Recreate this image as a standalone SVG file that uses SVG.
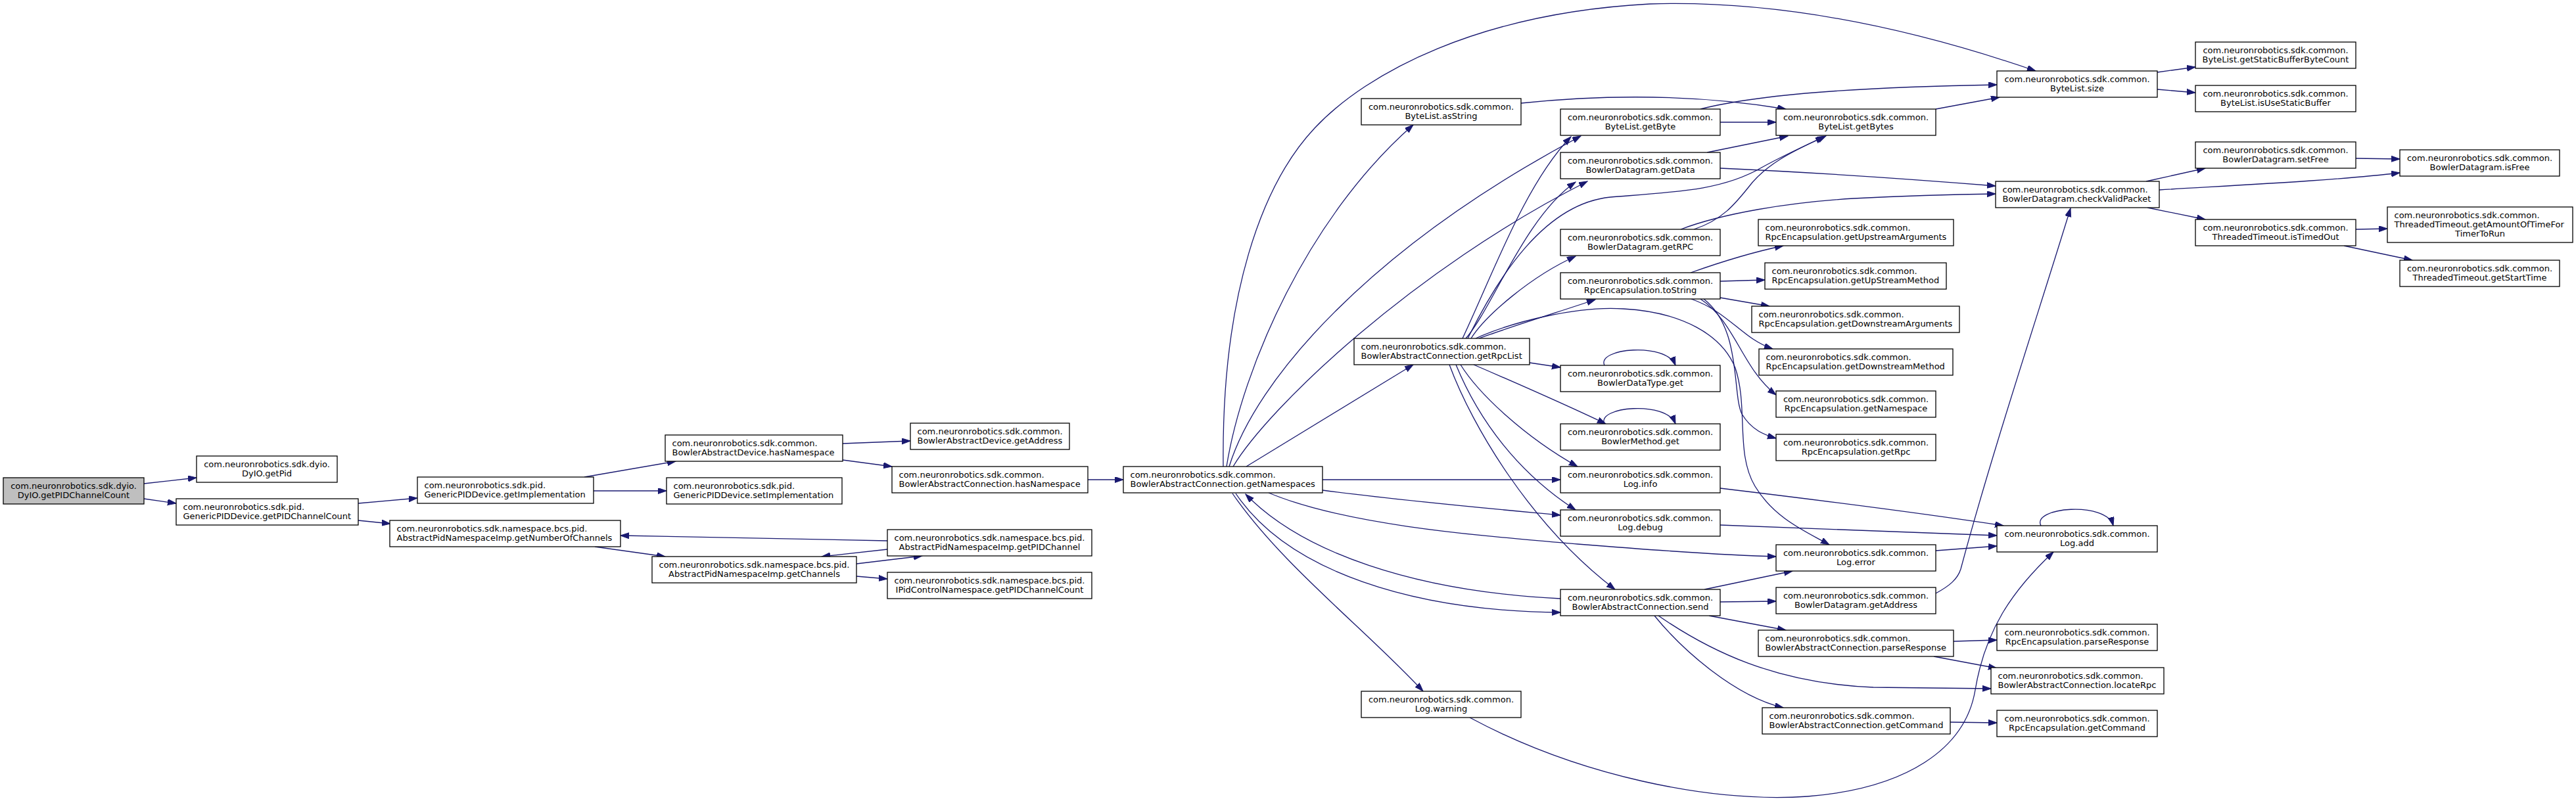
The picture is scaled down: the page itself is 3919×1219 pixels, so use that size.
<svg xmlns="http://www.w3.org/2000/svg" width="3919" height="1219" viewBox="0 0 3919 1219">
<style>
.n rect{fill:#fff;stroke:#000;stroke-width:1.3}
.n text{font-family:"DejaVu Sans","Liberation Sans",sans-serif;font-size:13px;fill:#000}
.c{text-anchor:middle}
.l{text-anchor:start}
.e{fill:none;stroke:#191970;stroke-width:1.3;marker-end:url(#ah)}
</style>
<defs>
<marker id="ah" markerUnits="userSpaceOnUse" markerWidth="14" markerHeight="10" refX="13" refY="4.5" orient="auto"><path d="M0,0 L13,4.5 L0,9 z" fill="#191970" stroke="#191970" stroke-width="1"/></marker>
</defs>
<rect x="0" y="0" width="3919" height="1219" fill="#fff"/>
<g id="edges">
<path class="e" d="M219,736 L299,727"/>
<path class="e" d="M219,759 L268,766"/>
<path class="e" d="M545,766 L635,758"/>
<path class="e" d="M545,792 L594,797"/>
<path class="e" d="M889,726 L1028,702"/>
<path class="e" d="M903,747 L1014,747"/>
<path class="e" d="M1282,675 L1385,671"/>
<path class="e" d="M1282,700 L1357,710"/>
<path class="e" d="M1655,730 L1709,730"/>
<path class="e" d="M905,832 L1012,847"/>
<path class="e" d="M1303,858 L1403,846"/>
<path class="e" d="M1303,877 L1350,881"/>
<path class="e" d="M1350,823 L944,815"/>
<path class="e" d="M1350,836 L1250,847"/>
<path class="e" d="M1861,710 C1858,450 1920,280 2000,195 C2080,110 2250,20 2510,6 C2700,0 2900,40 3097,108"/>
<path class="e" d="M1866,710 C1890,560 1990,330 2150,190"/>
<path class="e" d="M1870,710 C1910,580 2080,380 2405,207"/>
<path class="e" d="M1876,710 C1930,620 2150,410 2415,276"/>
<path class="e" d="M1896,710 L2150,555"/>
<path class="e" d="M2012,730 L2374,730"/>
<path class="e" d="M2012,746 C2150,764 2300,777 2374,784"/>
<path class="e" d="M1930,750 C2050,800 2250,815 2400,828 C2550,840 2650,846 2702,847"/>
<path class="e" d="M1880,751 C1960,870 2150,930 2374,932"/>
<path class="e" d="M2374,911 C2150,900 1980,840 1895,752"/>
<path class="e" d="M1875,751 C1950,860 2080,960 2165,1052"/>
<path class="e" d="M2236,1092 C2400,1180 2600,1222 2750,1212 C2900,1200 2990,1140 3005,1050 C3020,960 3060,900 3124,840"/>
<path class="e" d="M2225,515 C2270,420 2320,280 2390,208"/>
<path class="e" d="M2230,515 C2270,470 2320,330 2397,277"/>
<path class="e" d="M2238,515 C2260,480 2330,420 2397,390"/>
<path class="e" d="M2250,515 C2290,500 2370,475 2427,456"/>
<path class="e" d="M2233,515 C2280,420 2350,310 2450,300 C2550,292 2620,290 2680,255 C2720,233 2750,220 2778,207"/>
<path class="e" d="M2245,515 C2300,490 2400,465 2470,470 C2560,475 2620,510 2640,560 C2660,620 2640,690 2670,740 C2700,790 2750,810 2783,829"/>
<path class="e" d="M2327,552 L2374,559"/>
<path class="e" d="M2242,555 C2300,580 2380,615 2443,645"/>
<path class="e" d="M2222,555 C2250,600 2320,665 2400,710"/>
<path class="e" d="M2215,555 C2250,640 2310,720 2397,776"/>
<path class="e" d="M2205,555 C2240,650 2330,800 2457,897"/>
<path class="e" d="M2572,415 C2620,398 2670,383 2713,374"/>
<path class="e" d="M2617,428 L2685,426"/>
<path class="e" d="M2617,453 L2692,466"/>
<path class="e" d="M2573,455 C2630,475 2650,515 2697,531"/>
<path class="e" d="M2587,455 C2640,490 2650,560 2702,601"/>
<path class="e" d="M2592,455 C2650,500 2635,600 2650,630 C2665,655 2685,662 2702,667"/>
<path class="e" d="M2557,349 C2620,325 2720,308 2820,302 C2900,298 2970,296 3036,295"/>
<path class="e" d="M2577,349 C2620,335 2640,310 2660,285 C2690,245 2740,225 2775,208"/>
<path class="e" d="M2597,232 L2720,207"/>
<path class="e" d="M2617,256 C2750,262 2900,272 3036,283"/>
<path class="e" d="M2617,186 L2702,186"/>
<path class="e" d="M2587,166 C2680,142 2850,132 3038,129"/>
<path class="e" d="M2314,157 C2420,146 2560,140 2717,166"/>
<path class="e" d="M2945,166 L3042,148"/>
<path class="e" d="M3282,110 L3340,102"/>
<path class="e" d="M3282,136 L3340,141"/>
<path class="e" d="M3265,276 L3355,256"/>
<path class="e" d="M3285,289 C3400,282 3550,275 3651,263"/>
<path class="e" d="M3267,316 L3355,334"/>
<path class="e" d="M3584,241 L3651,242"/>
<path class="e" d="M3584,349 L3632,348"/>
<path class="e" d="M3566,374 L3670,396"/>
<path class="e" d="M2617,743 C2800,765 2950,785 3048,800"/>
<path class="e" d="M2617,799 C2800,806 2950,812 3038,815"/>
<path class="e" d="M2945,838 L3038,831"/>
<path class="e" d="M2945,903 C2965,892 2978,882 2983,866 C3030,690 3100,480 3150,317"/>
<path class="e" d="M2593,897 L2727,869"/>
<path class="e" d="M2617,916 L2702,915"/>
<path class="e" d="M2600,937 L2717,959"/>
<path class="e" d="M2517,937 C2560,990 2640,1060 2713,1077"/>
<path class="e" d="M2523,937 C2600,990 2700,1040 2850,1046 L3029,1048"/>
<path class="e" d="M2972,976 L3038,974"/>
<path class="e" d="M2942,999 L3038,1017"/>
<path class="e" d="M2967,1099 L3038,1100"/>
<path class="e" d="M2441,556 C2428,530 2535,520 2549,556"/>
<path class="e" d="M2441,645 C2428,619 2535,609 2549,645"/>
<path class="e" d="M3105,800 C3090,772 3205,762 3215,800"/>
</g>
<g id="n0" class="n"><rect x="5" y="727" width="214" height="40" style="fill:#bfbfbf"/><text class="c" x="112" y="743.5">com.neuronrobotics.sdk.dyio.</text><text class="c" x="112" y="757.5">DyIO.getPIDChannelCount</text></g>
<g id="n1" class="n"><rect x="299" y="694" width="214" height="40"/><text class="c" x="406" y="710.5">com.neuronrobotics.sdk.dyio.</text><text class="c" x="406" y="724.5">DyIO.getPid</text></g>
<g id="n2" class="n"><rect x="268" y="759" width="277" height="40"/><text class="l" x="278.5" y="775.5">com.neuronrobotics.sdk.pid.</text><text class="l" x="278.5" y="789.5">GenericPIDDevice.getPIDChannelCount</text></g>
<g id="n3" class="n"><rect x="635" y="726" width="268" height="40"/><text class="l" x="645.5" y="742.5">com.neuronrobotics.sdk.pid.</text><text class="l" x="645.5" y="756.5">GenericPIDDevice.getImplementation</text></g>
<g id="n4" class="n"><rect x="593" y="792" width="351" height="40"/><text class="l" x="603.5" y="808.5">com.neuronrobotics.sdk.namespace.bcs.pid.</text><text class="l" x="603.5" y="822.5">AbstractPidNamespaceImp.getNumberOfChannels</text></g>
<g id="n5" class="n"><rect x="1012" y="662" width="270" height="40"/><text class="l" x="1022.5" y="678.5">com.neuronrobotics.sdk.common.</text><text class="l" x="1022.5" y="692.5">BowlerAbstractDevice.hasNamespace</text></g>
<g id="n6" class="n"><rect x="1014" y="727" width="267" height="40"/><text class="l" x="1024.5" y="743.5">com.neuronrobotics.sdk.pid.</text><text class="l" x="1024.5" y="757.5">GenericPIDDevice.setImplementation</text></g>
<g id="n7" class="n"><rect x="992" y="847" width="311" height="40"/><text class="c" x="1147.5" y="863.5">com.neuronrobotics.sdk.namespace.bcs.pid.</text><text class="c" x="1147.5" y="877.5">AbstractPidNamespaceImp.getChannels</text></g>
<g id="n8" class="n"><rect x="1385" y="644" width="242" height="40"/><text class="l" x="1395.5" y="660.5">com.neuronrobotics.sdk.common.</text><text class="l" x="1395.5" y="674.5">BowlerAbstractDevice.getAddress</text></g>
<g id="n9" class="n"><rect x="1357" y="710" width="298" height="40"/><text class="l" x="1367.5" y="726.5">com.neuronrobotics.sdk.common.</text><text class="l" x="1367.5" y="740.5">BowlerAbstractConnection.hasNamespace</text></g>
<g id="n10" class="n"><rect x="1350" y="806" width="311" height="40"/><text class="c" x="1505.5" y="822.5">com.neuronrobotics.sdk.namespace.bcs.pid.</text><text class="c" x="1505.5" y="836.5">AbstractPidNamespaceImp.getPIDChannel</text></g>
<g id="n11" class="n"><rect x="1350" y="871" width="311" height="40"/><text class="c" x="1505.5" y="887.5">com.neuronrobotics.sdk.namespace.bcs.pid.</text><text class="c" x="1505.5" y="901.5">IPidControlNamespace.getPIDChannelCount</text></g>
<g id="n12" class="n"><rect x="1709" y="710" width="303" height="40"/><text class="l" x="1719.5" y="726.5">com.neuronrobotics.sdk.common.</text><text class="l" x="1719.5" y="740.5">BowlerAbstractConnection.getNamespaces</text></g>
<g id="n13" class="n"><rect x="2071" y="150" width="243" height="40"/><text class="c" x="2192.5" y="166.5">com.neuronrobotics.sdk.common.</text><text class="c" x="2192.5" y="180.5">ByteList.asString</text></g>
<g id="n14" class="n"><rect x="2060" y="515" width="267" height="40"/><text class="l" x="2070.5" y="531.5">com.neuronrobotics.sdk.common.</text><text class="l" x="2070.5" y="545.5">BowlerAbstractConnection.getRpcList</text></g>
<g id="n15" class="n"><rect x="2071" y="1052" width="243" height="40"/><text class="c" x="2192.5" y="1068.5">com.neuronrobotics.sdk.common.</text><text class="c" x="2192.5" y="1082.5">Log.warning</text></g>
<g id="n16" class="n"><rect x="2374" y="166" width="243" height="40"/><text class="c" x="2495.5" y="182.5">com.neuronrobotics.sdk.common.</text><text class="c" x="2495.5" y="196.5">ByteList.getByte</text></g>
<g id="n17" class="n"><rect x="2374" y="232" width="243" height="40"/><text class="c" x="2495.5" y="248.5">com.neuronrobotics.sdk.common.</text><text class="c" x="2495.5" y="262.5">BowlerDatagram.getData</text></g>
<g id="n18" class="n"><rect x="2374" y="349" width="243" height="40"/><text class="c" x="2495.5" y="365.5">com.neuronrobotics.sdk.common.</text><text class="c" x="2495.5" y="379.5">BowlerDatagram.getRPC</text></g>
<g id="n19" class="n"><rect x="2374" y="415" width="243" height="40"/><text class="c" x="2495.5" y="431.5">com.neuronrobotics.sdk.common.</text><text class="c" x="2495.5" y="445.5">RpcEncapsulation.toString</text></g>
<g id="n20" class="n"><rect x="2374" y="556" width="243" height="40"/><text class="c" x="2495.5" y="572.5">com.neuronrobotics.sdk.common.</text><text class="c" x="2495.5" y="586.5">BowlerDataType.get</text></g>
<g id="n21" class="n"><rect x="2374" y="645" width="243" height="40"/><text class="c" x="2495.5" y="661.5">com.neuronrobotics.sdk.common.</text><text class="c" x="2495.5" y="675.5">BowlerMethod.get</text></g>
<g id="n22" class="n"><rect x="2374" y="710" width="243" height="40"/><text class="c" x="2495.5" y="726.5">com.neuronrobotics.sdk.common.</text><text class="c" x="2495.5" y="740.5">Log.info</text></g>
<g id="n23" class="n"><rect x="2374" y="776" width="243" height="40"/><text class="c" x="2495.5" y="792.5">com.neuronrobotics.sdk.common.</text><text class="c" x="2495.5" y="806.5">Log.debug</text></g>
<g id="n24" class="n"><rect x="2374" y="897" width="243" height="40"/><text class="c" x="2495.5" y="913.5">com.neuronrobotics.sdk.common.</text><text class="c" x="2495.5" y="927.5">BowlerAbstractConnection.send</text></g>
<g id="n25" class="n"><rect x="2702" y="166" width="243" height="40"/><text class="c" x="2823.5" y="182.5">com.neuronrobotics.sdk.common.</text><text class="c" x="2823.5" y="196.5">ByteList.getBytes</text></g>
<g id="n26" class="n"><rect x="2675" y="334" width="297" height="40"/><text class="l" x="2685.5" y="350.5">com.neuronrobotics.sdk.common.</text><text class="l" x="2685.5" y="364.5">RpcEncapsulation.getUpstreamArguments</text></g>
<g id="n27" class="n"><rect x="2685" y="400" width="276" height="40"/><text class="l" x="2695.5" y="416.5">com.neuronrobotics.sdk.common.</text><text class="l" x="2695.5" y="430.5">RpcEncapsulation.getUpStreamMethod</text></g>
<g id="n28" class="n"><rect x="2665" y="466" width="316" height="40"/><text class="l" x="2675.5" y="482.5">com.neuronrobotics.sdk.common.</text><text class="l" x="2675.5" y="496.5">RpcEncapsulation.getDownstreamArguments</text></g>
<g id="n29" class="n"><rect x="2676" y="531" width="295" height="40"/><text class="l" x="2686.5" y="547.5">com.neuronrobotics.sdk.common.</text><text class="l" x="2686.5" y="561.5">RpcEncapsulation.getDownstreamMethod</text></g>
<g id="n30" class="n"><rect x="2702" y="595" width="243" height="40"/><text class="c" x="2823.5" y="611.5">com.neuronrobotics.sdk.common.</text><text class="c" x="2823.5" y="625.5">RpcEncapsulation.getNamespace</text></g>
<g id="n31" class="n"><rect x="2702" y="661" width="243" height="40"/><text class="c" x="2823.5" y="677.5">com.neuronrobotics.sdk.common.</text><text class="c" x="2823.5" y="691.5">RpcEncapsulation.getRpc</text></g>
<g id="n32" class="n"><rect x="2702" y="829" width="243" height="40"/><text class="c" x="2823.5" y="845.5">com.neuronrobotics.sdk.common.</text><text class="c" x="2823.5" y="859.5">Log.error</text></g>
<g id="n33" class="n"><rect x="2702" y="894" width="243" height="40"/><text class="c" x="2823.5" y="910.5">com.neuronrobotics.sdk.common.</text><text class="c" x="2823.5" y="924.5">BowlerDatagram.getAddress</text></g>
<g id="n34" class="n"><rect x="2675" y="959" width="297" height="40"/><text class="l" x="2685.5" y="975.5">com.neuronrobotics.sdk.common.</text><text class="l" x="2685.5" y="989.5">BowlerAbstractConnection.parseResponse</text></g>
<g id="n35" class="n"><rect x="2681" y="1077" width="286" height="40"/><text class="l" x="2691.5" y="1093.5">com.neuronrobotics.sdk.common.</text><text class="l" x="2691.5" y="1107.5">BowlerAbstractConnection.getCommand</text></g>
<g id="n36" class="n"><rect x="3038" y="108" width="244" height="40"/><text class="c" x="3160" y="124.5">com.neuronrobotics.sdk.common.</text><text class="c" x="3160" y="138.5">ByteList.size</text></g>
<g id="n37" class="n"><rect x="3036" y="276" width="249" height="40"/><text class="l" x="3046.5" y="292.5">com.neuronrobotics.sdk.common.</text><text class="l" x="3046.5" y="306.5">BowlerDatagram.checkValidPacket</text></g>
<g id="n38" class="n"><rect x="3038" y="800" width="244" height="40"/><text class="c" x="3160" y="816.5">com.neuronrobotics.sdk.common.</text><text class="c" x="3160" y="830.5">Log.add</text></g>
<g id="n39" class="n"><rect x="3038" y="950" width="244" height="40"/><text class="c" x="3160" y="966.5">com.neuronrobotics.sdk.common.</text><text class="c" x="3160" y="980.5">RpcEncapsulation.parseResponse</text></g>
<g id="n40" class="n"><rect x="3029" y="1016" width="263" height="40"/><text class="l" x="3039.5" y="1032.5">com.neuronrobotics.sdk.common.</text><text class="l" x="3039.5" y="1046.5">BowlerAbstractConnection.locateRpc</text></g>
<g id="n41" class="n"><rect x="3038" y="1081" width="244" height="40"/><text class="c" x="3160" y="1097.5">com.neuronrobotics.sdk.common.</text><text class="c" x="3160" y="1111.5">RpcEncapsulation.getCommand</text></g>
<g id="n42" class="n"><rect x="3340" y="64" width="244" height="40"/><text class="c" x="3462" y="80.5">com.neuronrobotics.sdk.common.</text><text class="c" x="3462" y="94.5">ByteList.getStaticBufferByteCount</text></g>
<g id="n43" class="n"><rect x="3340" y="130" width="244" height="40"/><text class="c" x="3462" y="146.5">com.neuronrobotics.sdk.common.</text><text class="c" x="3462" y="160.5">ByteList.isUseStaticBuffer</text></g>
<g id="n44" class="n"><rect x="3340" y="216" width="244" height="40"/><text class="c" x="3462" y="232.5">com.neuronrobotics.sdk.common.</text><text class="c" x="3462" y="246.5">BowlerDatagram.setFree</text></g>
<g id="n45" class="n"><rect x="3340" y="334" width="244" height="40"/><text class="c" x="3462" y="350.5">com.neuronrobotics.sdk.common.</text><text class="c" x="3462" y="364.5">ThreadedTimeout.isTimedOut</text></g>
<g id="n46" class="n"><rect x="3651" y="228" width="243" height="40"/><text class="c" x="3772.5" y="244.5">com.neuronrobotics.sdk.common.</text><text class="c" x="3772.5" y="258.5">BowlerDatagram.isFree</text></g>
<g id="n47" class="n"><rect x="3632" y="315" width="282" height="54"/><text class="l" x="3642.5" y="331.5">com.neuronrobotics.sdk.common.</text><text class="l" x="3642.5" y="345.5">ThreadedTimeout.getAmountOfTimeFor</text><text class="c" x="3773" y="359.5">TimerToRun</text></g>
<g id="n48" class="n"><rect x="3651" y="396" width="243" height="40"/><text class="c" x="3772.5" y="412.5">com.neuronrobotics.sdk.common.</text><text class="c" x="3772.5" y="426.5">ThreadedTimeout.getStartTime</text></g>
</svg>
